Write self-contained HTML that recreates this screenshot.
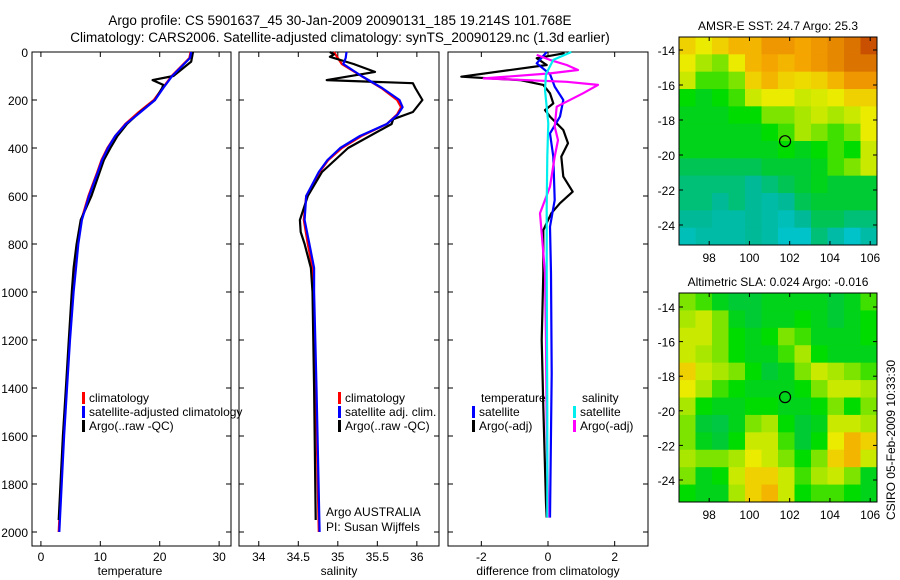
<!DOCTYPE html>
<html><head><meta charset="utf-8"><style>
body{margin:0;background:#fff;}
svg{display:block;font-family:"Liberation Sans",sans-serif;}
</style></head><body>
<svg id="c" width="900" height="580" viewBox="0 0 900 580">
<text x="340" y="25" font-size="13.5" text-anchor="middle">Argo profile: CS 5901637_45 30-Jan-2009 20090131_185 19.214S 101.768E</text>
<text x="340" y="42" font-size="13.5" text-anchor="middle">Climatology: CARS2006. Satellite-adjusted climatology: synTS_20090129.nc (1.3d earlier)</text>
<text x="130" y="575" font-size="12" text-anchor="middle">temperature</text>
<text x="339" y="575" font-size="12" text-anchor="middle">salinity</text>
<text x="548" y="575" font-size="12" text-anchor="middle">difference from climatology</text>
<text x="778" y="30" font-size="12" text-anchor="middle">AMSR-E SST: 24.7 Argo: 25.3</text>
<text x="778" y="286" font-size="12" text-anchor="middle">Altimetric SLA: 0.024  Argo: -0.016</text>
<text transform="translate(895,440) rotate(-90)" font-size="12" text-anchor="middle">CSIRO 05-Feb-2009 10:33:30</text>
<text x="326" y="516" font-size="12">Argo AUSTRALIA</text>
<text x="326" y="531" font-size="12">PI: Susan Wijffels</text>
</svg>
<script>
// ---- data ----
const depthTicks=[0,200,400,600,800,1000,1200,1400,1600,1800,2000];
const tempTicks=[0,10,20,30];
const salTicks=[34,34.5,35,35.5,36];
const diffTicks=[-2,0,2];
const tClimDepth=[0,25,50,100,150,200,250,300,350,400,450,500,600,700,800,900,1000,1200,1400,1600,1800,2000];
const tClim=[25.2,25,24,22,20.5,19,16.5,14.2,12.5,11.2,10.2,9.5,8,6.8,6.1,5.7,5.3,4.8,4.3,3.8,3.4,3];
const tSat=[25.3,25.1,24.1,22.1,20.6,19.2,16.8,14.3,12.5,11.3,10.3,9.6,8.1,6.9,6.3,5.9,5.5,4.9,4.4,3.9,3.5,3.1];
const tArgoDepth=[0,40,100,117,137,150,200,250,300,350,400,450,500,600,700,800,900,1000,1200,1400,1600,1800,1950];
const tArgo=[25.6,25.3,22.3,18.8,20.6,20.4,19.2,16.7,14.5,12.9,11.7,10.6,9.9,8.5,6.7,6,5.5,5.2,4.7,4.2,3.7,3.3,3];
const sDepth=[0,25,50,100,150,200,230,260,300,350,400,450,500,600,700,800,900,1000,1400,2000];
const sClim=[34.95,35.0,35.05,35.3,35.55,35.75,35.8,35.75,35.62,35.3,35.05,34.88,34.77,34.6,34.57,34.62,34.68,34.69,34.72,34.76];
const sSat=[35.11,35.1,35.07,35.3,35.56,35.78,35.82,35.76,35.62,35.28,35.03,34.87,34.76,34.6,34.58,34.64,34.7,34.7,34.73,34.77];
const sArgoDepth=[0,10,20,50,83,117,130,150,200,250,280,300,400,500,600,700,750,800,900,1000,1400,1950];
const sArgo=[34.9,34.95,34.9,35.2,35.47,34.86,35.95,35.98,36.07,35.95,35.7,35.68,35.13,34.8,34.62,34.52,34.53,34.58,34.66,34.68,34.7,34.72];
const dTArgoDepth=[5,26,54,103,117,137,172,214,242,269,325,380,436,519,582,630,672,742,922,1200,1478,1880,1940];
const dTArgo=[0.5,-0.34,-0.04,-2.6,-0.84,-0.14,0.06,0.16,-0.09,0.06,0.46,0.6,0.4,0.46,0.74,0.36,0.1,-0.14,-0.14,-0.19,-0.14,-0.06,-0.04];
const dTSatDepth=[0,47,92,144,200,269,339,436,617,728,922,1339,1940];
const dTSat=[-0.04,-0.34,0.06,0.2,0.46,0.36,0.06,0.16,0.2,0.06,0.09,0.11,0.06];
const dSSatDepth=[0,33,92,158,297,436,644,922,1500,1940];
const dSSat=[0.7,0.16,-0.06,-0.09,0.01,-0.02,-0.04,-0.04,-0.02,-0.02];
const dSArgoDepth=[12,33,54,75,89,110,124,137,172,228,311,367,436,561,672,756,922,1200,1561,1940];
const dSArgo=[-0.34,0.06,0.56,0.9,0.06,-1.93,0.56,1.5,1.05,0.26,0.2,0.3,0.2,0.06,-0.24,-0.19,-0.09,-0.06,-0.04,0.01];
const mapLonTicks=[98,100,102,104,106];
const mapLatTicks=[-14,-16,-18,-20,-22,-24];
const argoLon=101.77, argoLat=-19.21;
const sstGrid=[
[.8,.75,.8,.85,.85,.9,.9,.88,.9,.92,.95,1],
[.75,.65,.6,.75,.85,.88,.85,.88,.9,.92,.95,.95],
[.7,.55,.55,.6,.8,.85,.8,.78,.8,.85,.9,.9],
[.5,.45,.5,.55,.7,.75,.75,.7,.72,.75,.8,.8],
[.45,.45,.45,.5,.5,.6,.6,.65,.7,.65,.7,.75],
[.45,.45,.45,.45,.45,.5,.55,.65,.6,.55,.6,.75],
[.45,.45,.45,.45,.45,.45,.5,.45,.5,.55,.5,.7],
[.35,.35,.35,.35,.35,.4,.4,.4,.45,.55,.6,.7],
[.3,.3,.3,.3,.25,.3,.35,.4,.45,.4,.4,.4],
[.3,.3,.25,.3,.25,.2,.25,.35,.4,.4,.4,.4],
[.25,.25,.2,.2,.25,.2,.15,.25,.35,.35,.3,.3],
[.15,.2,.2,.2,.25,.2,.1,.1,.3,.2,.1,.2]];
const slaGrid=[
[.6,.55,.45,.4,.4,.45,.45,.45,.45,.4,.45,.55],
[.65,.7,.6,.45,.4,.45,.45,.5,.45,.4,.45,.5],
[.7,.7,.6,.5,.45,.5,.6,.55,.45,.45,.45,.5],
[.7,.65,.6,.5,.45,.45,.55,.65,.5,.45,.45,.45],
[.8,.7,.65,.6,.5,.4,.45,.6,.7,.65,.6,.55],
[.75,.65,.55,.5,.45,.45,.45,.5,.6,.7,.7,.65],
[.65,.5,.45,.45,.5,.5,.45,.45,.5,.6,.5,.6],
[.6,.4,.38,.45,.6,.65,.5,.4,.45,.7,.7,.65],
[.6,.45,.4,.5,.7,.7,.55,.4,.5,.75,.85,.8],
[.65,.6,.6,.65,.75,.7,.6,.5,.6,.8,.85,.7],
[.6,.45,.5,.7,.8,.8,.7,.55,.65,.7,.6,.45],
[.5,.45,.45,.65,.8,.85,.7,.5,.55,.55,.5,.45]];

// ---- helpers ----
const svg=document.getElementById('c');const NS='http://www.w3.org/2000/svg';
function mk(t,a,p){const e=document.createElementNS(NS,t);for(const k in a)e.setAttribute(k,a[k]);(p||svg).appendChild(e);return e;}
const yTop=52, pxPerM=0.24, yBot=546;
const yD=d=>yTop+d*pxPerM;
const panels=[
 {x0:32,x1:231,v0:-1.5,v1:32,ticks:tempTicks,name:'temperature'},
 {x0:239,x1:439,v0:33.75,v1:36.28,ticks:salTicks,name:'salinity'},
 {x0:448,x1:648,v0:-3,v1:3,ticks:diffTicks,name:'difference'}];
panels.forEach(p=>{p.sx=v=>p.x0+(v-p.v0)/(p.v1-p.v0)*(p.x1-p.x0);});
function line(p,depths,vals,color,name){
  const pts=depths.map((d,i)=>p.sx(vals[i]).toFixed(1)+','+yD(d).toFixed(1)).join(' ');
  const e=mk('polyline',{points:pts,fill:'none',stroke:color,'stroke-width':2.2,'stroke-linejoin':'round'});
  
  
}
panels.forEach((p,pi)=>{
  const fr=mk('rect',{x:p.x0,y:yTop,width:p.x1-p.x0,height:yBot-yTop,fill:'none',stroke:'#000','stroke-width':1});
  
  
  depthTicks.forEach(d=>{
    const y=yD(d);
    mk('line',{x1:p.x0,y1:y,x2:p.x0+5,y2:y,stroke:'#000'});
    mk('line',{x1:p.x1,y1:y,x2:p.x1-5,y2:y,stroke:'#000'});
    if(pi===0){const t=mk('text',{x:28,y:y+5,'font-size':12,'text-anchor':'end'});t.textContent=d;
      
      }
  });
  p.ticks.forEach(v=>{
    const x=p.sx(v);
    mk('line',{x1:x,y1:yTop,x2:x,y2:yTop+5,stroke:'#000'});
    mk('line',{x1:x,y1:yBot,x2:x,y2:yBot-5,stroke:'#000'});
    const t=mk('text',{x:x,y:561,'font-size':12,'text-anchor':'middle'});t.textContent=v;
    
    
  });
});
const [P1,P2,P3]=panels;
line(P1,tClimDepth,tClim,'#f00','temp-climatology-line');
line(P1,tArgoDepth,tArgo,'#000','temp-argo-line');
line(P1,tClimDepth,tSat,'#00f','temp-satellite-line');
line(P2,sDepth,sClim,'#f00','sal-climatology-line');
line(P2,sArgoDepth,sArgo,'#000','sal-argo-line');
line(P2,sDepth,sSat,'#00f','sal-satellite-line');
line(P3,dTArgoDepth,dTArgo,'#000','diff-temp-argo-line');
line(P3,dTSatDepth,dTSat,'#00f','diff-temp-satellite-line');
line(P3,dSArgoDepth,dSArgo,'#f0f','diff-sal-argo-line');
line(P3,dSSatDepth,dSSat,'#0ee','diff-sal-satellite-line');
function legend(x,y,color,label,name){
  if(color){const b=mk('rect',{x:x,y:y-10,width:3,height:12,fill:color});
    
    }
  const t=mk('text',{x:x+7,y:y,'font-size':12});t.textContent=label;
  
  
}
legend(82,402,'#f00','climatology','legend-climatology');
legend(82,416,'#00f','satellite-adjusted climatology','legend-satellite-adjusted');
legend(82,430,'#000','Argo(..raw -QC)','legend-argo-raw');
legend(338,402,'#f00','climatology','legend-sal-climatology');
legend(338,416,'#00f','satellite adj. clim.','legend-sal-satellite');
legend(338,430,'#000','Argo(..raw -QC)','legend-sal-argo');
legend(474,402,null,'temperature','legend-temperature-header');
legend(472,416,'#00f','satellite','legend-diff-temp-satellite');
legend(472,430,'#000','Argo(-adj)','legend-diff-temp-argo');
legend(575,402,null,'salinity','legend-salinity-header');
legend(573,416,'#0ee','satellite','legend-diff-sal-satellite');
legend(573,430,'#f0f','Argo(-adj)','legend-diff-sal-argo');

// maps
const stops=[[0,[0,200,235]],[0.25,[0,185,150]],[0.42,[0,205,40]],[0.5,[0,220,0]],[0.62,[150,230,0]],[0.75,[235,235,0]],[0.88,[245,165,0]],[1,[200,80,0]]];
function cmap(v){for(let i=1;i<stops.length;i++){if(v<=stops[i][0]){const [a,ca]=stops[i-1],[b,cb]=stops[i];const f=(v-a)/(b-a);
  return 'rgb('+ca.map((c,k)=>Math.round(c+(cb[k]-c)*f)).join(',')+')';}}return 'rgb(200,80,0)';}
function map(m,grid,name){
  const lonX=lon=>m.x0+(lon-m.lon0)*m.kx, latY=lat=>m.yRef+(m.latRef-lat)*m.ky;
  const rows=grid.length, cols=grid[0].length, cw=(m.x1-m.x0)/cols, ch=(m.y1-m.y0)/rows;
  grid.forEach((row,r)=>row.forEach((v,c)=>{
    const e=mk('rect',{x:(m.x0+c*cw).toFixed(2),y:(m.y0+r*ch).toFixed(2),width:(cw+0.5).toFixed(2),height:(ch+0.5).toFixed(2),fill:cmap(v)});
    
    
  }));
  const f=mk('rect',{x:m.x0,y:m.y0,width:m.x1-m.x0,height:m.y1-m.y0,fill:'none',stroke:'#000'});
  
  
  mapLonTicks.forEach(lon=>{const x=lonX(lon);
    mk('line',{x1:x,y1:m.y0,x2:x,y2:m.y0+4,stroke:'#000'});mk('line',{x1:x,y1:m.y1,x2:x,y2:m.y1-4,stroke:'#000'});
    const t=mk('text',{x:x,y:m.y1+17,'font-size':12,'text-anchor':'middle'});t.textContent=lon;
    
    });
  mapLatTicks.forEach(lat=>{const y=latY(lat);
    mk('line',{x1:m.x0,y1:y,x2:m.x0+4,y2:y,stroke:'#000'});mk('line',{x1:m.x1,y1:y,x2:m.x1-4,y2:y,stroke:'#000'});
    const t=mk('text',{x:m.x0-4,y:y+5,'font-size':12,'text-anchor':'end'});t.textContent=lat;
    
    });
  const c=mk('circle',{cx:lonX(argoLon),cy:latY(argoLat),r:5.5,fill:'none',stroke:'#000','stroke-width':1.2});
  
  
}
map({x0:679,x1:877,y0:37,y1:245,lon0:96.5,kx:20.125,latRef:-14,yRef:50,ky:17.5},sstGrid,'sst-map');
map({x0:679,x1:877,y0:293,y1:502,lon0:96.5,kx:20.125,latRef:-14,yRef:307,ky:17.3},slaGrid,'sla-map');
</script>
</body></html>
